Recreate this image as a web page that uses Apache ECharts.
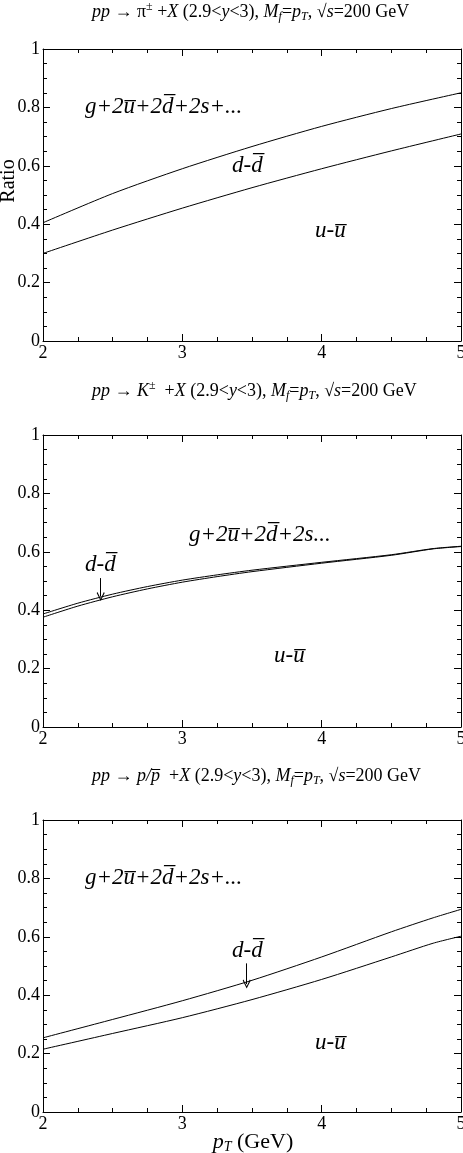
<!DOCTYPE html>
<html><head><meta charset="utf-8">
<script src="https://cdn.jsdelivr.net/npm/echarts@6/dist/echarts.min.js"></script>
<style>html,body{margin:0;padding:0;background:#fff}#c{width:463px;height:1153px}</style>
</head><body><div id="c"></div>
<script>
// ---- data ----
const xPi = [2, 2.5, 3, 3.5, 4, 4.5, 5];
const piUpper = [0.405, 0.505, 0.590, 0.666, 0.735, 0.796, 0.850];
const piLower = [0.300, 0.380, 0.455, 0.525, 0.590, 0.651, 0.709];

const xK = [2, 2.25, 2.5, 2.75, 3, 3.25, 3.5, 4, 4.5, 4.8, 5];
const kUpper = [0.387, 0.424, 0.455, 0.481, 0.503, 0.521, 0.537, 0.564, 0.590, 0.611, 0.619];
const kLower = [0.376, 0.414, 0.446, 0.473, 0.496, 0.515, 0.532, 0.561, 0.588, 0.610, 0.618];

const xP = [2, 2.5, 3, 3.5, 4, 4.5, 4.8, 5];
const pUpper = [0.254, 0.317, 0.381, 0.451, 0.531, 0.617, 0.665, 0.694];
const pLower = [0.215, 0.269, 0.323, 0.385, 0.454, 0.531, 0.578, 0.602];

// arrows (data coords): [x, yStart, yEnd]
const kArrow = [2.414, 0.510, 0.447];
const pArrow = [3.462, 0.509, 0.438];

const xRange = [2, 5];
const yRange = [0, 1];

// ---- layout ----
const gridTops = [49, 435, 820];
const H = 292;
const SERIF = '"Liberation Serif","Times New Roman",serif';

const grids = gridTops.map(t => ({left: 43, right: 2, top: t, height: H, outerBoundsMode: 'none', containLabel: false}));

const tickCommon = {
  axisLine: {onZero: false, lineStyle: {color: '#000', width: 1}},
  axisTick: {inside: true, length: 7, lineStyle: {color: '#000', width: 1}},
  minorTick: {show: true, splitNumber: 4, length: 4, lineStyle: {color: '#000', width: 1}},
  splitLine: {show: false},
  minorSplitLine: {show: false}
};
const xAxes = [], yAxes = [];
gridTops.forEach((t, i) => {
  xAxes.push(Object.assign({type: 'value', gridIndex: i, position: 'bottom', min: xRange[0], max: xRange[1], interval: 1,
    axisLabel: {show: true, color: '#000', fontFamily: SERIF, fontSize: 18, margin: 3, hideOverlap: false, showMinLabel: true, showMaxLabel: true}}, tickCommon));
  xAxes.push(Object.assign({type: 'value', gridIndex: i, position: 'top', min: xRange[0], max: xRange[1], interval: 1,
    axisLabel: {show: false}}, tickCommon));
  yAxes.push(Object.assign({type: 'value', gridIndex: i, position: 'left', min: yRange[0], max: yRange[1], interval: 0.2,
    axisLabel: {show: true, color: '#000', fontFamily: SERIF, fontSize: 18, margin: 3, hideOverlap: false, showMinLabel: true, showMaxLabel: true}}, tickCommon));
  yAxes.push(Object.assign({type: 'value', gridIndex: i, position: 'right', min: yRange[0], max: yRange[1], interval: 0.2,
    axisLabel: {show: false}}, tickCommon));
});

function pairs(xs, ys) { return xs.map((x, i) => [x, ys[i]]); }
function line(i, xs, ys, arrow) {
  const s = {type: 'line', xAxisIndex: 2 * i, yAxisIndex: 2 * i, data: pairs(xs, ys), symbol: 'none', smooth: 0.25,
    lineStyle: {color: '#000', width: 1}, silent: true, z: 3};
  if (arrow) {
    s.markLine = {silent: true, animation: false, symbol: ['none', 'path://M5,0 L10,9 L9,10 L5,2.5 L1,10 L0,9 Z'],
      symbolSize: [8, 9], label: {show: false}, lineStyle: {color: '#000', width: 1, type: 'solid'},
      data: [[{coord: [arrow[0], arrow[1]]}, {coord: [arrow[0], arrow[2]]}]]};
  }
  return s;
}
const series = [
  line(0, xPi, piUpper), line(0, xPi, piLower),
  line(1, xK, kUpper, kArrow), line(1, xK, kLower),
  line(2, xP, pUpper, pArrow), line(2, xP, pLower)
];

// ---- texts ----
const OL = '\u0305';
const titleRich = {
  n: {fontFamily: SERIF, fontSize: 18, color: '#000', lineHeight: 22, verticalAlign: 'middle'},
  i: {fontFamily: SERIF, fontSize: 18, fontStyle: 'italic', color: '#000', lineHeight: 22, verticalAlign: 'middle'},
  sub: {fontFamily: SERIF, fontSize: 12, fontStyle: 'italic', color: '#000', lineHeight: 12, verticalAlign: 'bottom'},
  sup: {fontFamily: SERIF, fontSize: 12, color: '#000', lineHeight: 12, verticalAlign: 'top'}
};
const tail = '{n| +}{i|X}{n| (2.9<}{i|y}{n|<3), }{i|M}{sub|f}{n|=}{i|p}{sub|T}{n|, √}{i|s}{n|=200 GeV}';
const titles = [
  '{i|pp}{n| → π}{sup|±}' + tail,
  '{i|pp}{n| → }{i|K}{sup|±}{n| }' + tail,
  '{i|pp}{n| → }{i|p/p' + OL + '}{n| }' + tail
];
const titleY = [12, 391, 776];

function ann(x, y, txt) {
  return {type: 'text', x: x, y: y, silent: true, style: {text: txt, font: 'italic 23px ' + SERIF, fill: '#000', align: 'left', verticalAlign: 'middle'}};
}
const gText1 = 'g+2u' + OL + '+2d' + OL + '+2s+...';
const gText2 = 'g+2u' + OL + '+2d' + OL + '+2s...';
const dText = 'd-d' + OL;
const uText = 'u-u' + OL;

const graphics = [];
titles.forEach((t, k) => graphics.push({type: 'text', x: 92, y: titleY[k], silent: true,
  style: {text: t, rich: titleRich, align: 'left', verticalAlign: 'middle', fill: '#000'}}));
graphics.push(ann(85, 107, gText1), ann(232, 166, dText), ann(315, 231, uText));
graphics.push(ann(189, 535, gText2), ann(85, 565, dText), ann(274, 656, uText));
graphics.push(ann(85, 878, gText1), ann(232, 951, dText), ann(315, 1043, uText));
graphics.push({type: 'text', x: 9, y: 181, rotation: Math.PI / 2, silent: true,
  style: {text: 'Ratio', font: '20px ' + SERIF, fill: '#000', align: 'center', verticalAlign: 'middle'}});
graphics.push({type: 'text', x: 253, y: 1142, silent: true,
  style: {text: '{i|p}{sub|T}{n| (GeV)}', align: 'center', verticalAlign: 'middle', rich: {
    n: {fontFamily: SERIF, fontSize: 22, color: '#000', lineHeight: 24, verticalAlign: 'middle'},
    i: {fontFamily: SERIF, fontSize: 22, fontStyle: 'italic', color: '#000', lineHeight: 24, verticalAlign: 'middle'},
    sub: {fontFamily: SERIF, fontSize: 14, fontStyle: 'italic', color: '#000', lineHeight: 14, verticalAlign: 'bottom'}
  }}});

const chart = echarts.init(document.getElementById('c'), null, {renderer: 'canvas'});
chart.setOption({
  animation: false,
  backgroundColor: '#fff',
  grid: grids,
  xAxis: xAxes,
  yAxis: yAxes,
  series: series,
  graphic: graphics
});
</script>
</body></html>
